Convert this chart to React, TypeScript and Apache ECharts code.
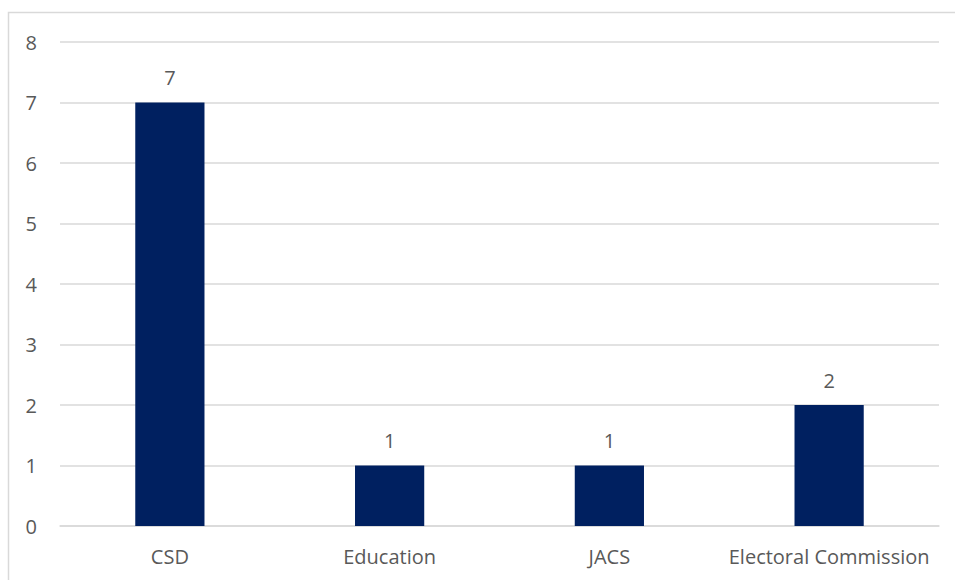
import React, { useEffect, useRef } from "react";
import * as echarts from "echarts";

const categories = ["CSD", "Education", "JACS", "Electoral Commission"];
const counts = [7, 1, 1, 2];
const yTicks = [0, 1, 2, 3, 4, 5, 6, 7, 8];

const TEXT = "#595959";
const GRID = "#d9d9d9";
const BAR = "#002060";
const FONT = "'Open Sans', 'Noto Sans', sans-serif";
const SIZE = 20;

export default function App() {
  const ref = useRef<HTMLDivElement>(null);

  useEffect(() => {
    if (!ref.current) return;
    const chart = echarts.init(ref.current, null, { renderer: "svg" });
    chart.setOption({
      animation: false,
      textStyle: { fontFamily: FONT },
      graphic: [
        {
          type: "rect",
          shape: { x: 8.5, y: 12.5, width: 1000, height: 700 },
          style: { fill: "none", stroke: GRID, lineWidth: 1.5 },
          silent: true,
        },
      ],
      grid: { left: 60, right: 16, top: 42, bottom: 54 },
      xAxis: {
        type: "category",
        data: categories,
        axisLine: { show: true, lineStyle: { color: GRID, width: 1.5 } },
        axisTick: { show: false },
        axisLabel: {
          color: TEXT,
          fontSize: SIZE,
          margin: 20,
          fontFamily: FONT,
          interval: 0,
          hideOverlap: false,
        },
      },
      yAxis: {
        type: "value",
        min: yTicks[0],
        max: yTicks[yTicks.length - 1],
        interval: 1,
        axisLine: { show: false },
        axisTick: { show: false },
        axisLabel: { color: TEXT, fontSize: SIZE, margin: 23, fontFamily: FONT },
        splitLine: { lineStyle: { color: GRID, width: 1.5 } },
      },
      series: [
        {
          type: "bar",
          data: counts,
          barWidth: "31.5%",
          itemStyle: { color: BAR },
          label: {
            show: true,
            position: "top",
            distance: 15,
            color: TEXT,
            fontSize: SIZE,
            fontFamily: FONT,
          },
        },
      ],
    });
    return () => chart.dispose();
  }, []);

  return (
    <div
      ref={ref}
      style={{ position: "absolute", left: 0, top: 0, width: 955, height: 580 }}
    />
  );
}
